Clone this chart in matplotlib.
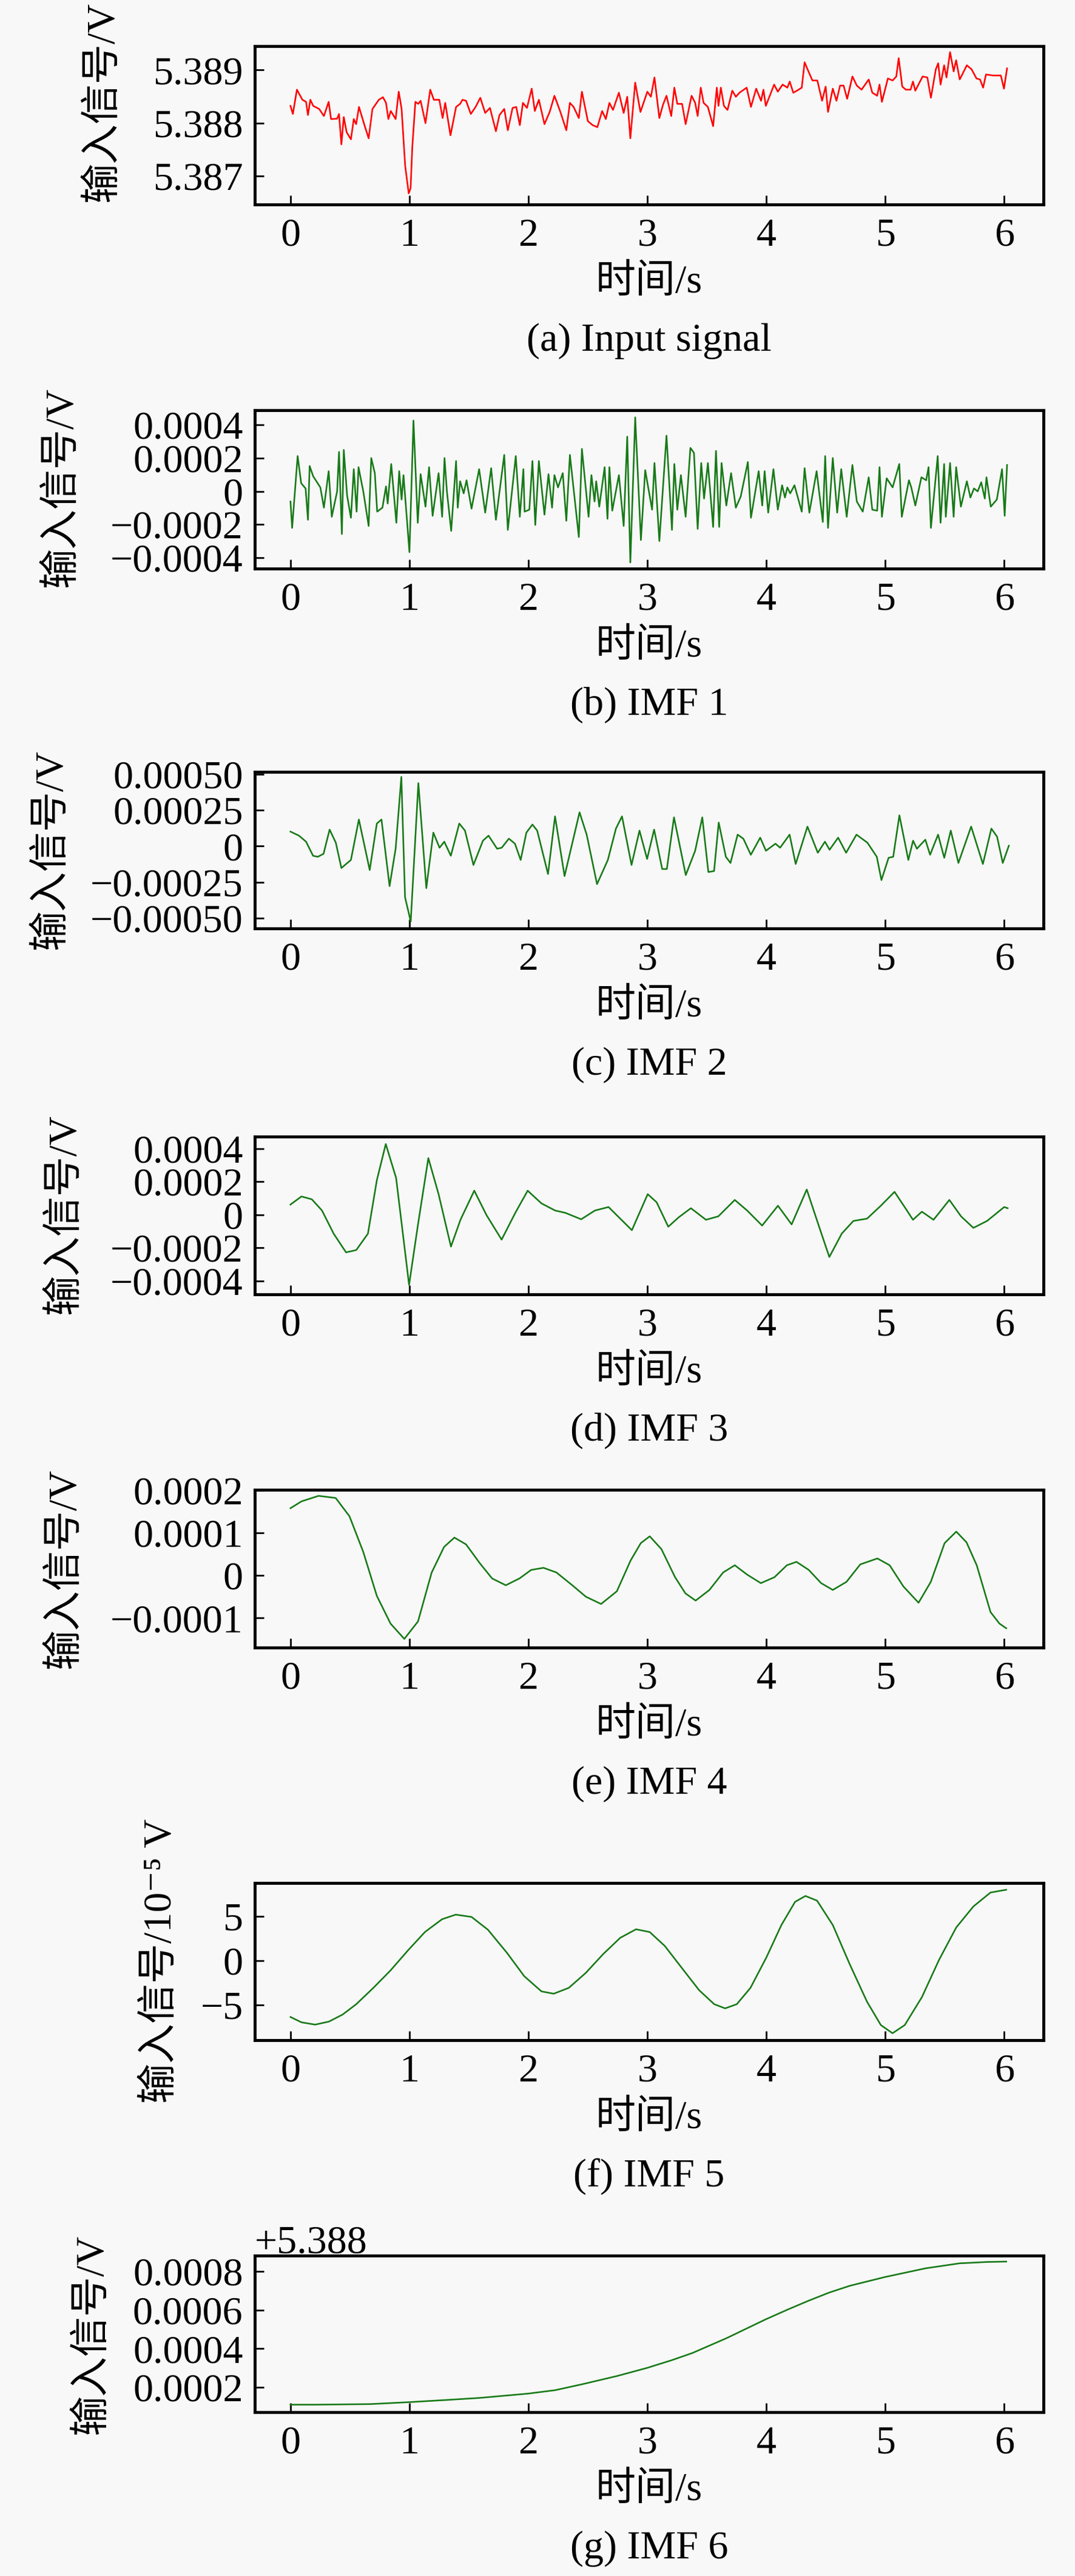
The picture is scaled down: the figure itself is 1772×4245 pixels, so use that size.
import numpy as np
import matplotlib.pyplot as plt
from matplotlib.ticker import ScalarFormatter

plt.rcParams['font.family'] = ['Liberation Serif', 'Noto Sans CJK SC', 'DejaVu Serif']

# ---- data ----
# (a) input signal, deviation from 5.388 V in microvolts
t_input = [0.000, 0.020, 0.054, 0.100, 0.131, 0.147, 0.167, 0.191, 0.241, 0.281,
           0.321, 0.341, 0.392, 0.408, 0.428, 0.448, 0.472, 0.508, 0.532, 0.552,
           0.576, 0.622, 0.657, 0.689, 0.713, 0.743, 0.777, 0.803, 0.823, 0.843,
           0.884, 0.910, 0.934, 0.964, 0.994, 1.010, 1.024, 1.050, 1.074, 1.094,
           1.135, 1.175, 1.205, 1.251, 1.279, 1.301, 1.345, 1.392, 1.426, 1.446,
           1.476, 1.516, 1.556, 1.596, 1.637, 1.677, 1.727, 1.757, 1.797, 1.827,
           1.867, 1.898, 1.928, 1.954, 1.988, 2.028, 2.054, 2.088, 2.135, 2.179,
           2.219, 2.269, 2.319, 2.349, 2.380, 2.424, 2.450, 2.500, 2.540, 2.580,
           2.620, 2.651, 2.681, 2.711, 2.761, 2.801, 2.831, 2.857, 2.898, 2.942,
           3.000, 3.030, 3.060, 3.101, 3.131, 3.161, 3.201, 3.227, 3.252, 3.292,
           3.322, 3.372, 3.402, 3.423, 3.449, 3.473, 3.509, 3.553, 3.584, 3.598,
           3.618, 3.644, 3.674, 3.714, 3.744, 3.775, 3.835, 3.871, 3.915, 3.956,
           3.976, 3.996, 4.066, 4.097, 4.137, 4.177, 4.197, 4.227, 4.258, 4.298,
           4.322, 4.358, 4.388, 4.429, 4.469, 4.499, 4.519, 4.559, 4.590, 4.620,
           4.650, 4.680, 4.724, 4.761, 4.801, 4.861, 4.891, 4.932, 4.952, 4.972,
           5.022, 5.062, 5.093, 5.113, 5.143, 5.173, 5.213, 5.233, 5.253, 5.314,
           5.354, 5.384, 5.425, 5.445, 5.465, 5.495, 5.515, 5.545, 5.575, 5.596,
           5.626, 5.686, 5.726, 5.767, 5.797, 5.823, 5.847, 5.907, 5.972, 5.998,
           6.024]
input_uv = [322, 169, 628, 437, 398, 149, 437, 322, 264, 130,
            398, 73, 80, 169, -406, 111, -176, -310, 73, -23,
            302, -42, -291, 264, 341, 437, 486, 379, 73, 226,
            73, 590, 264, -808, -1330, -1229, -463, 398, 360, 418,
            -4, 628, 437, 437, 92, 379, -234, 302, 360, 437,
            418, 169, 302, 475, 188, 283, -157, 149, 264, -138,
            283, 302, -42, 379, 283, 647, 226, 437, -23, 207,
            513, 207, -138, 379, 302, 92, 590, 34, -42, -80,
            226, 73, 379, 245, 571, 188, 494, -291, 762, 207,
            590, 494, 858, 92, 341, 513, 130, 666, 360, 360,
            -23, 513, 379, 130, 666, 379, 302, -61, 666, 322,
            666, 322, 245, 609, 494, 571, 666, 302, 647, 418,
            628, 322, 724, 590, 724, 666, 781, 571, 609, 666,
            1145, 954, 801, 801, 418, 686, 207, 647, 418, 705,
            705, 456, 877, 705, 628, 820, 571, 513, 724, 398,
            839, 801, 877, 1222, 686, 628, 628, 781, 609, 877,
            858, 475, 1011, 1126, 724, 1088, 858, 1337, 973, 1183,
            820, 1088, 1011, 839, 820, 666, 915, 896, 896, 647,
            1030]

# (b) IMF 1, microvolts
t_imf1 = [0.000, 0.014, 0.060, 0.090, 0.127, 0.147, 0.161, 0.191, 0.251, 0.281,
          0.321, 0.347, 0.392, 0.408, 0.432, 0.448, 0.476, 0.508, 0.532, 0.556,
          0.572, 0.612, 0.657, 0.679, 0.709, 0.729, 0.773, 0.803, 0.817, 0.847,
          0.890, 0.914, 0.934, 0.950, 1.000, 1.034, 1.070, 1.094, 1.135, 1.165,
          1.195, 1.245, 1.275, 1.295, 1.315, 1.351, 1.392, 1.406, 1.426, 1.456,
          1.480, 1.522, 1.586, 1.637, 1.687, 1.727, 1.797, 1.827, 1.894, 1.928,
          1.958, 1.968, 2.008, 2.034, 2.058, 2.088, 2.135, 2.169, 2.199, 2.219,
          2.249, 2.289, 2.319, 2.349, 2.424, 2.450, 2.506, 2.530, 2.556, 2.570,
          2.596, 2.641, 2.665, 2.681, 2.705, 2.761, 2.801, 2.831, 2.857, 2.898,
          2.946, 2.982, 3.040, 3.060, 3.101, 3.161, 3.207, 3.227, 3.252, 3.282,
          3.322, 3.362, 3.392, 3.423, 3.453, 3.477, 3.509, 3.553, 3.577, 3.604,
          3.624, 3.664, 3.704, 3.744, 3.785, 3.845, 3.871, 3.936, 3.966, 3.986,
          4.016, 4.060, 4.097, 4.133, 4.157, 4.177, 4.201, 4.237, 4.298, 4.322,
          4.362, 4.423, 4.475, 4.495, 4.519, 4.559, 4.596, 4.630, 4.676, 4.724,
          4.761, 4.811, 4.861, 4.891, 4.932, 4.952, 4.972, 5.012, 5.062, 5.118,
          5.139, 5.199, 5.219, 5.253, 5.304, 5.344, 5.364, 5.384, 5.441, 5.465,
          5.495, 5.509, 5.545, 5.575, 5.596, 5.636, 5.686, 5.716, 5.746, 5.777,
          5.807, 5.837, 5.851, 5.887, 5.938, 5.982, 6.004, 6.024]
imf1_uv = [-62, -221, 212, 48, 17, -172, 152, 90, 23, -99,
           121, -154, -1, 237, -258, 249, -26, -160, 133, -123,
           145, -1, -209, 200, 109, -123, -99, 29, -74, 164,
           -190, 121, -50, 97, -367, 426, -190, 103, -93, 145,
           -148, 109, -154, 200, -1, -239, 182, -99, 60, -13,
           66, -105, 133, -129, 139, -172, 219, -233, 212, -154,
           133, -123, -111, 182, -203, 182, -141, 103, -99, 97,
           23, 109, -178, 219, -276, 255, -154, 97, -62, 60,
           -93, 145, -166, 145, -117, 97, -209, 329, -429, 445,
           -294, 127, -111, 170, -300, 335, -233, 164, -111, 97,
           -154, 261, 231, -227, 170, -44, 170, -215, 243, -215,
           170, -86, 109, -99, -32, 176, -160, 121, -86, 121,
           -129, 133, -111, 36, -38, 23, -13, 36, -123, 139,
           -129, 121, -185, 212, -221, 200, -129, 133, -154, 158,
           -62, -123, 84, -111, -117, 145, -154, 78, 23, 164,
           -154, 66, 23, -86, 84, 66, 145, -221, 212, -190,
           164, -154, 170, -154, 145, -93, 60, -38, 17, -1,
           54, -44, 84, -93, -50, 133, -148, 158]

# (c) IMF 2, microvolts
t_imf2 = [0.000, 0.071, 0.131, 0.190, 0.230, 0.278, 0.329, 0.381, 0.428, 0.468,
          0.508, 0.575, 0.666, 0.726, 0.765, 0.833, 0.884, 0.932, 0.963, 1.011,
          1.075, 1.142, 1.201, 1.253, 1.293, 1.348, 1.419, 1.467, 1.538, 1.618,
          1.665, 1.737, 1.776, 1.836, 1.887, 1.935, 1.983, 2.034, 2.074, 2.165,
          2.224, 2.304, 2.430, 2.490, 2.577, 2.668, 2.736, 2.787, 2.867, 2.934,
          2.998, 3.057, 3.125, 3.164, 3.224, 3.323, 3.402, 3.462, 3.513, 3.561,
          3.600, 3.660, 3.699, 3.759, 3.807, 3.870, 3.949, 3.997, 4.077, 4.116,
          4.196, 4.247, 4.346, 4.433, 4.493, 4.532, 4.604, 4.671, 4.758, 4.850,
          4.929, 4.968, 5.028, 5.067, 5.119, 5.194, 5.234, 5.266, 5.337, 5.377,
          5.444, 5.496, 5.551, 5.615, 5.722, 5.821, 5.892, 5.940, 5.988, 6.039]
imf2_uv = [101, 73, 31, -67, -74, -53, 115, 24, -152, -124,
           -96, 185, -166, 157, 185, -278, -18, 481, -355, -524,
           438, -292, 94, -11, 31, -67, 157, 108, -131, 38,
           73, -18, -11, 52, 17, -96, 94, 150, 108, -194,
           207, -208, 235, 80, -264, -96, 122, 207, -131, 108,
           -89, 115, -159, -159, 200, -201, -32, 200, -180, -173,
           164, -74, -117, 80, 52, -60, 59, -32, 17, -11,
           80, -124, 136, -46, 31, -25, 59, -46, 80, 24,
           -74, -236, -81, -74, 214, -96, 38, -18, 45, -60,
           80, -81, 108, -117, 136, -124, 122, 66, -117, 3]

# (d) IMF 3, microvolts
t_imf3 = [0.000, 0.092, 0.179, 0.265, 0.363, 0.467, 0.553, 0.651, 0.726, 0.801,
          0.888, 0.997, 1.072, 1.159, 1.245, 1.349, 1.429, 1.545, 1.648, 1.775,
          1.890, 1.994, 2.110, 2.225, 2.311, 2.444, 2.559, 2.674, 2.772, 2.870,
          3.003, 3.078, 3.176, 3.262, 3.366, 3.493, 3.597, 3.735, 3.839, 3.965,
          4.098, 4.213, 4.340, 4.444, 4.530, 4.634, 4.732, 4.847, 4.963, 5.078,
          5.176, 5.233, 5.308, 5.406, 5.539, 5.637, 5.741, 5.856, 6.000, 6.029]
imf3_uv = [61, 110, 93, 25, -115, -228, -214, -115, 208, 427,
           222, -425, -59, 342, 124, -193, -31, 145, -3, -151,
           11, 145, 68, 25, 11, -28, 25, 46, -24, -94,
           124, 75, -73, -17, 39, -31, -10, 89, 25, -66,
           54, -59, 152, -73, -256, -115, -38, -24, 54, 138,
           32, -31, 18, -31, 89, -10, -80, -38, 46, 39]

# (e) IMF 4, microvolts
t_imf4 = [0.000, 0.092, 0.236, 0.380, 0.496, 0.611, 0.726, 0.841, 0.957, 1.072,
          1.187, 1.291, 1.378, 1.476, 1.591, 1.695, 1.810, 1.925, 2.023, 2.127,
          2.236, 2.369, 2.484, 2.611, 2.744, 2.859, 2.945, 3.020, 3.118, 3.233,
          3.320, 3.406, 3.522, 3.637, 3.735, 3.839, 3.954, 4.069, 4.173, 4.254,
          4.357, 4.461, 4.559, 4.674, 4.790, 4.934, 5.037, 5.153, 5.280, 5.383,
          5.499, 5.597, 5.683, 5.769, 5.885, 5.960, 6.017]
imf4_uv = [158, 174, 187, 182, 139, 56, -48, -113, -149, -108,
           7, 67, 89, 73, 29, -7, -23, -7, 13, 18,
           7, -23, -50, -67, -37, 35, 76, 92, 62, -4,
           -42, -59, -34, 7, 24, 2, -18, -4, 24, 32,
           13, -18, -34, -15, 26, 40, 24, -26, -64, -15,
           76, 103, 78, 24, -86, -113, -124]

# (f) IMF 5, units of 1e-5 V
t_imf5 = [0.000, 0.092, 0.207, 0.323, 0.438, 0.553, 0.697, 0.841, 0.986, 1.130,
          1.274, 1.389, 1.522, 1.660, 1.821, 1.965, 2.110, 2.213, 2.340, 2.484,
          2.628, 2.772, 2.905, 3.020, 3.147, 3.291, 3.435, 3.562, 3.654, 3.752,
          3.867, 4.000, 4.127, 4.242, 4.329, 4.427, 4.559, 4.703, 4.847, 4.963,
          5.061, 5.164, 5.308, 5.452, 5.597, 5.741, 5.885, 6.017]
imf5_e5 = [-6.34, -6.94, -7.20, -6.86, -6.07, -4.90, -3.06, -1.10, 1.13, 3.22,
           4.66, 5.18, 4.92, 3.48, 0.86, -1.75, -3.46, -3.72, -3.06, -1.36,
           0.73, 2.57, 3.53, 3.22, 1.65, -0.84, -3.32, -4.90, -5.37, -4.90,
           -3.06, 0.34, 4.01, 6.62, 7.28, 6.75, 4.01, -0.45, -4.63, -7.25,
           -8.17, -7.25, -4.11, 0.08, 3.74, 6.10, 7.67, 7.98]

# (g) IMF 6 (residual), microvolts above 5.388 V
t_imf6 = [0.000, 0.207, 0.669, 0.997, 1.303, 1.591, 1.994, 2.225, 2.455, 2.744,
          2.997, 3.205, 3.378, 3.666, 3.994, 4.184, 4.357, 4.530, 4.703, 4.997,
          5.337, 5.625, 5.856, 6.017]
imf6_uv = [110, 110, 113, 123, 134, 145, 167, 185, 216, 258,
           300, 340, 377, 454, 551, 603, 648, 690, 725, 770,
           815, 841, 848, 850]

captions = ['(a) Input signal', '(b) IMF 1', '(c) IMF 2', '(d) IMF 3',
            '(e) IMF 4', '(f) IMF 5', '(g) IMF 6']
ylabels = ['输入信号/V'] * 5 + ['输入信号/10⁻⁵ V', '输入信号/V']

ytick_a = [5.387, 5.388, 5.389]
ytick_a_lab = ['5.387', '5.388', '5.389']
ytick_b = [-0.0004, -0.0002, 0, 0.0002, 0.0004]
ytick_b_lab = ['−0.0004', '−0.0002', '0', '0.0002', '0.0004']
ytick_c = [-0.0005, -0.00025, 0, 0.00025, 0.0005]
ytick_c_lab = ['−0.00050', '−0.00025', '0', '0.00025', '0.00050']
ytick_d = [-0.0004, -0.0002, 0, 0.0002, 0.0004]
ytick_d_lab = ['−0.0004', '−0.0002', '0', '0.0002', '0.0004']
ytick_e = [-0.0001, 0, 0.0001, 0.0002]
ytick_e_lab = ['−0.0001', '0', '0.0001', '0.0002']
ytick_f = [-5, 0, 5]
ytick_f_lab = ['−5', '0', '5']
ytick_g = [0.0002, 0.0004, 0.0006, 0.0008]
base_g = 5.388

green = '#187a18'
series = [
    (t_input, 5.388 + np.array(input_uv) * 1e-6, 'red'),
    (t_imf1, np.array(imf1_uv) * 1e-6, green),
    (t_imf2, np.array(imf2_uv) * 1e-6, green),
    (t_imf3, np.array(imf3_uv) * 1e-6, green),
    (t_imf4, np.array(imf4_uv) * 1e-6, green),
    (t_imf5, np.array(imf5_e5), green),
    (t_imf6, base_g + np.array(imf6_uv) * 1e-6, green),
]
yticks = [(ytick_a, ytick_a_lab), (ytick_b, ytick_b_lab), (ytick_c, ytick_c_lab),
          (ytick_d, ytick_d_lab), (ytick_e, ytick_e_lab), (ytick_f, ytick_f_lab), None]
ylims = [(5.38646, 5.38945), (-0.000466, 0.000488), (-0.000572, 0.000516),
         (-0.000482, 0.000472), (-0.0001693, 0.0002013), (-8.95, 8.74),
         (base_g + 0.0000713, base_g + 0.000881)]

# ---- layout (pixels) ----
W, H = 1772, 4245
ax_left, ax_right = 420, 1720
ax_tops = [76, 676, 1272, 1873, 2455, 3103, 3717]
ax_bots = [337, 937, 1530, 2133, 2715, 3362, 3975]
ylab_xy = [(170, 168), (102, 803), (85, 1400), (107, 2001), (107, 2585),
           (265, 3232), (152, 3847)]
fs = 47.5
bg = '#f8f8f8'

fig = plt.figure(figsize=(W / 100, H / 100), dpi=100, facecolor=bg)

for i, (t, y, col) in enumerate(series):
    top, bot = ax_tops[i], ax_bots[i]
    hpx = bot - top
    ax = fig.add_axes([ax_left / W, 1 - bot / H, (ax_right - ax_left) / W, hpx / H])
    ax.set_facecolor(bg)
    ax.plot(t, y, color=col, lw=1.9)
    ax.set_xlim(-0.30, 6.33)
    ax.set_ylim(*ylims[i])
    ax.set_xticks(range(7))
    if yticks[i] is not None:
        ax.set_yticks(yticks[i][0], yticks[i][1])
    else:
        ax.set_yticks([base_g + v for v in ytick_g])
        ax.yaxis.set_major_formatter(ScalarFormatter(useOffset=base_g))
        ax.yaxis.get_offset_text().set_fontsize(fs)
    ax.tick_params(direction='in', length=10.8, width=2, labelsize=fs,
                   top=False, right=False)
    ax.tick_params(axis='x', pad=16)
    ax.tick_params(axis='y', pad=14)
    for s in ax.spines.values():
        s.set_linewidth(3.5)

    ax.set_xlabel('时间/s', fontsize=fs, va='center')
    ax.xaxis.set_label_coords(0.5, -129 / hpx)
    cx, cy = ylab_xy[i]
    ax.set_ylabel(ylabels[i], fontsize=fs, va='center')
    ax.yaxis.set_label_coords((cx - ax_left) / (ax_right - ax_left), (bot - cy) / hpx)
    ax.text(0.5, -225 / hpx, captions[i], transform=ax.transAxes,
            ha='center', va='center', fontsize=fs)

fig.savefig('out.png', dpi=100, facecolor=bg)
